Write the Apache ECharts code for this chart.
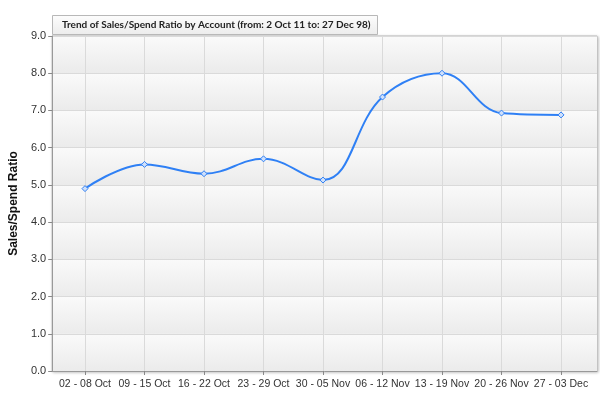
<!DOCTYPE html>
<html lang="en">
<head>
    <meta charset="UTF-8">
    <title>Sales/Spend Ratio</title>
    <script src="https://cdn.jsdelivr.net/npm/echarts@6/dist/echarts.min.js"></script>
    <style>
        html, body { margin: 0; padding: 0; background: #fff; }
        #chart { width: 600px; height: 399px; }
    </style>
</head>
<body>
    <div id="chart"></div>
    <script>
        var weeks = ['02 - 08 Oct', '09 - 15 Oct', '16 - 22 Oct', '23 - 29 Oct', '30 - 05 Nov',
                     '06 - 12 Nov', '13 - 19 Nov', '20 - 26 Nov', '27 - 03 Dec'];
        var ratio = [4.9, 5.55, 5.3, 5.7, 5.13, 7.36, 8.0, 6.93, 6.88];
        var yMin = 0, yMax = 9, yStep = 1;

        var font = 'Liberation Sans';
        var myChart = echarts.init(document.getElementById('chart'));
        var option = {
            animation: false,
            title: {
                text: 'Trend of Sales/Spend Ratio by Account (from: 2 Oct 11 to: 27 Dec 98)',
                left: 52,
                top: 15,
                padding: [5, 7, 5, 10],
                backgroundColor: new echarts.graphic.LinearGradient(0, 0, 0, 1, [
                    { offset: 0, color: '#fdfdfd' }, { offset: 1, color: '#ececec' }
                ]),
                borderColor: '#b8b8b8',
                borderWidth: 1,
                textStyle: { fontFamily: 'Lato', fontSize: 10, fontWeight: 'bold', color: '#222' }
            },
            grid: [
                // frame + horizontal lines
                { left: 51, right: 3, top: 36, bottom: 28, show: true, backgroundColor: '#f4f4f4',
                  borderColor: '#bbb', borderWidth: 1, shadowColor: 'rgba(0,0,0,0.25)', shadowBlur: 3, shadowOffsetX: 1, shadowOffsetY: 1 },
                // data area, categories from first to last point
                { left: 85, right: 39, top: 36, bottom: 28 }
            ],
            xAxis: [
                { gridIndex: 0, type: 'value', min: 0, max: 1, axisLabel: { show: false },
                  axisTick: { show: false }, splitLine: { show: false },
                  axisLine: { lineStyle: { color: '#999' } } },
                { gridIndex: 1, type: 'category', data: weeks, boundaryGap: false,
                  axisLine: { show: false },
                  axisTick: { show: true, length: 4, lineStyle: { color: '#888' } },
                  axisLabel: { fontFamily: font, fontSize: 10.5, color: '#333', margin: 8, interval: 0 },
                  splitLine: { show: true, lineStyle: { color: '#dadada', width: 1 } } }
            ],
            yAxis: [
                { gridIndex: 0, type: 'value', min: yMin, max: yMax, interval: yStep,
                  name: 'Sales/Spend Ratio', nameLocation: 'middle', nameGap: 28,
                  nameTextStyle: { fontFamily: font, fontSize: 12, fontWeight: 'bold', color: '#111' },
                  axisLine: { show: true, lineStyle: { color: '#999' } },
                  axisTick: { show: true, length: 4, lineStyle: { color: '#888' } },
                  axisLabel: { fontFamily: font, fontSize: 11, color: '#333', margin: 6,
                               formatter: function (v) { return v.toFixed(1); } },
                  splitLine: { show: true, lineStyle: { color: '#dadada', width: 1 } },
                  splitArea: { show: true, areaStyle: { color: [
                      new echarts.graphic.LinearGradient(0, 0, 0, 1, [
                          { offset: 0, color: '#fafafa' }, { offset: 1, color: '#ebebeb' }
                      ])
                  ] } } },
                { gridIndex: 1, type: 'value', min: yMin, max: yMax, interval: yStep,
                  axisLine: { show: false }, axisTick: { show: false },
                  axisLabel: { show: false }, splitLine: { show: false } }
            ],
            series: [
                {
                    type: 'line',
                    xAxisIndex: 1,
                    yAxisIndex: 1,
                    data: ratio,
                    smooth: 0.4,
                    symbol: 'diamond',
                    symbolSize: 6,
                    lineStyle: { color: '#2f80f5', width: 2 },
                    itemStyle: { color: '#cfe0fb', borderColor: '#2f80f5', borderWidth: 1 }
                }
            ]
        };
        myChart.setOption(option);
    </script>
</body>
</html>
